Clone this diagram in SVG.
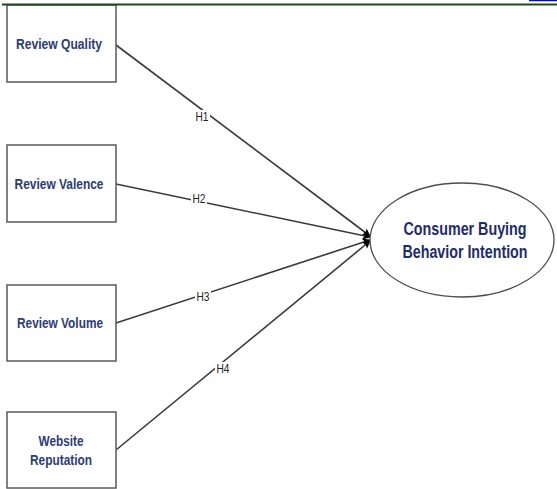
<svg xmlns="http://www.w3.org/2000/svg" width="557" height="489" viewBox="0 0 557 489">
  <style>
    .box { fill: #ffffff; stroke: #595959; stroke-width: 1.5; }
    .oval { fill: #ffffff; stroke: #4d4d4d; stroke-width: 1.3; }
    .lbl { font-family: "Liberation Sans", Arial, sans-serif; font-weight: bold; font-size: 15px; fill: #2b3c78; text-anchor: middle; }
    .big { font-family: "Liberation Sans", Arial, sans-serif; font-weight: bold; font-size: 18px; fill: #1d2c6e; text-anchor: middle; }
    .edge { fill: none; stroke: #3a3a3a; stroke-width: 1.6; marker-end: url(#arrow); }
    .hbg { fill: #ffffff; }
    .h { font-family: "Liberation Sans", Arial, sans-serif; font-size: 12px; fill: #222222; text-anchor: middle; }
  </style>
  <defs>
    <marker id="arrow" viewBox="0 0 10 10" refX="9" refY="5" markerWidth="9" markerHeight="8" markerUnits="userSpaceOnUse" orient="auto">
      <path d="M0,0 L10,5 L0,10 L2,5 Z" fill="#000000"/>
    </marker>
  </defs>

  <rect width="557" height="489" fill="#ffffff"/>

  <g id="connectors">
    <path class="edge" d="M116,45 L370,236"/>
    <path class="edge" d="M116,184 L370,237"/>
    <path class="edge" d="M116,323 L370,240"/>
    <path class="edge" d="M116,450 L370,241"/>
    <g id="h1"><rect class="hbg" x="194" y="110" width="16" height="13"/><text class="h" x="202" y="121" textLength="13" lengthAdjust="spacingAndGlyphs">H1</text></g>
    <g id="h2"><rect class="hbg" x="191" y="192" width="16" height="13"/><text class="h" x="199" y="203" textLength="13" lengthAdjust="spacingAndGlyphs">H2</text></g>
    <g id="h3"><rect class="hbg" x="195" y="290" width="16" height="13"/><text class="h" x="203" y="301" textLength="13" lengthAdjust="spacingAndGlyphs">H3</text></g>
    <g id="h4"><rect class="hbg" x="215" y="362" width="16" height="13"/><text class="h" x="223" y="373" textLength="13" lengthAdjust="spacingAndGlyphs">H4</text></g>
  </g>

  <g id="review-quality">
    <rect class="box" x="7" y="5" width="109" height="77"/>
    <text class="lbl" x="59" y="49" textLength="86" lengthAdjust="spacingAndGlyphs">Review Quality</text>
  </g>

  <g id="review-valence">
    <rect class="box" x="7" y="145" width="109" height="77"/>
    <text class="lbl" x="59" y="189" textLength="89" lengthAdjust="spacingAndGlyphs">Review Valence</text>
  </g>

  <g id="review-volume">
    <rect class="box" x="7" y="285" width="109" height="76"/>
    <text class="lbl" x="60" y="328" textLength="86" lengthAdjust="spacingAndGlyphs">Review Volume</text>
  </g>

  <g id="website-reputation">
    <rect class="box" x="7" y="412" width="109" height="76"/>
    <text class="lbl" x="61" y="446" textLength="45" lengthAdjust="spacingAndGlyphs">Website</text>
    <text class="lbl" x="61" y="465" textLength="62" lengthAdjust="spacingAndGlyphs">Reputation</text>
  </g>

  <g id="consumer-buying-behavior-intention">
    <ellipse class="oval" cx="462" cy="240" rx="92" ry="57"/>
    <text class="big" x="465" y="235" textLength="123" lengthAdjust="spacingAndGlyphs">Consumer Buying</text>
    <text class="big" x="465" y="258" textLength="125" lengthAdjust="spacingAndGlyphs">Behavior Intention</text>
  </g>

  <!-- page header rule and link stub -->
  <line x1="2" y1="4.5" x2="557" y2="4.5" stroke="#1e4a1e" stroke-width="2"/>
  <line x1="529" y1="0.5" x2="557" y2="0.5" stroke="#0000ee" stroke-width="1.5"/>
</svg>
